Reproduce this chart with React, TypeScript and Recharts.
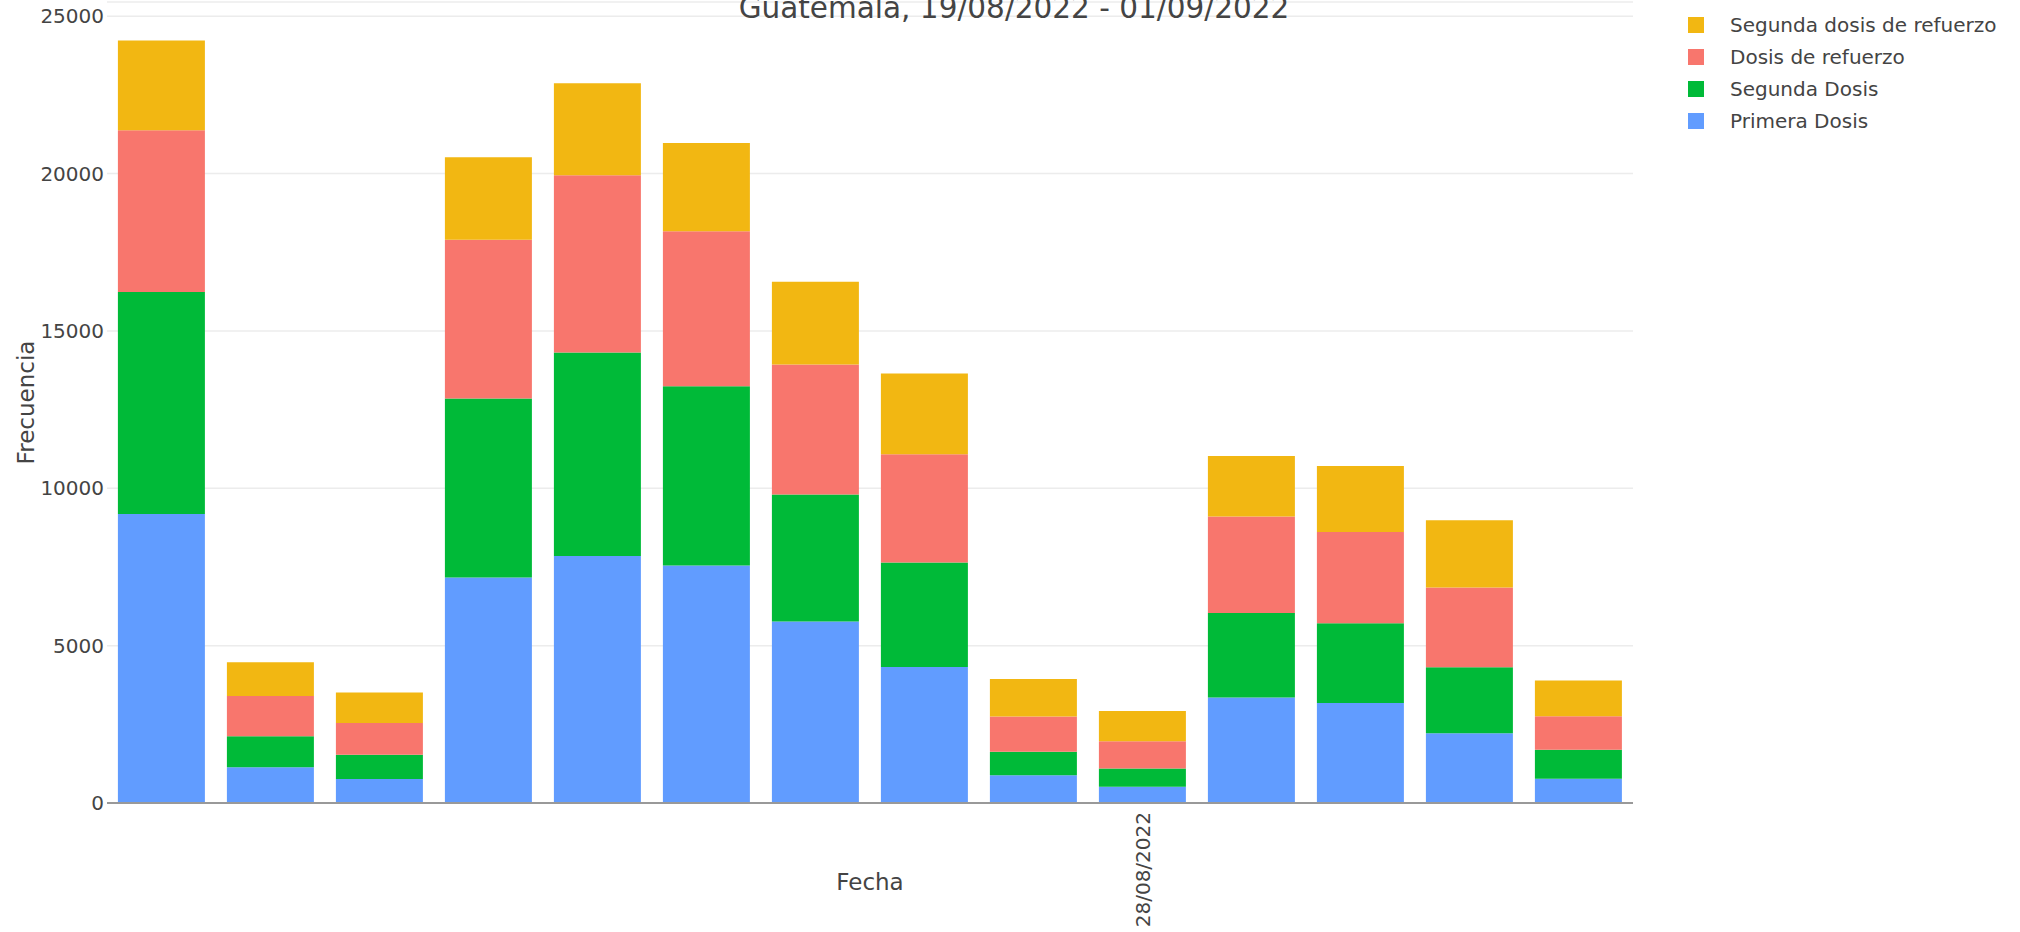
import { BarChart, Bar, XAxis, YAxis, CartesianGrid, Legend, Customized } from 'recharts';

const FONT = '"DejaVu Sans", Verdana, sans-serif';
const TEXT = '#444';

const fechas = [
  '19/08/2022', '20/08/2022', '21/08/2022', '22/08/2022', '23/08/2022', '24/08/2022', '25/08/2022',
  '26/08/2022', '27/08/2022', '28/08/2022', '29/08/2022', '30/08/2022', '31/08/2022', '01/09/2022',
];
const primeraDosis = [9185, 1135, 760, 7165, 7850, 7550, 5770, 4320, 880, 520, 3350, 3180, 2220, 770];
const segundaDosis = [7050, 985, 775, 5690, 6460, 5690, 4030, 3320, 750, 580, 2685, 2535, 2095, 920];
const dosisRefuerzo = [5140, 1280, 1010, 5040, 5635, 4930, 4135, 3440, 1120, 860, 3065, 2895, 2535, 1065];
const segundaRefuerzo = [2855, 1075, 965, 2625, 2925, 2800, 2630, 2570, 1190, 960, 1925, 2095, 2135, 1140];

const yTicks = [0, 5000, 10000, 15000, 20000, 25000];
const shownDate = '28/08/2022';

const series = [
  { key: 'primera', name: 'Primera Dosis', color: '#619CFF', values: primeraDosis },
  { key: 'segunda', name: 'Segunda Dosis', color: '#00BA38', values: segundaDosis },
  { key: 'refuerzo', name: 'Dosis de refuerzo', color: '#F8766D', values: dosisRefuerzo },
  { key: 'segRefuerzo', name: 'Segunda dosis de refuerzo', color: '#F2B712', values: segundaRefuerzo },
];

const data = fechas.map((fecha, i) => {
  const row: any = { fecha };
  series.forEach((s) => { row[s.key] = s.values[i]; });
  return row;
});

function XTick({ x, y, payload }: any) {
  if (payload?.value !== shownDate) return null;
  return (
    <text x={x} y={y} transform={`rotate(-90, ${x}, ${y})`} textAnchor="end" dominantBaseline="central"
      fontSize={20} fill={TEXT} fontFamily={FONT}>
      {payload.value}
    </text>
  );
}

function XLabel({ viewBox }: any) {
  const vb = viewBox ?? {};
  return (
    <text x={vb.x + vb.width / 2} y={vb.y + 79} textAnchor="middle" dominantBaseline="central"
      fontSize={23} fill={TEXT} fontFamily={FONT}>Fecha</text>
  );
}

function YLabel({ viewBox }: any) {
  const vb = viewBox ?? {};
  const cy = vb.y + vb.height / 2;
  return (
    <text x={26} y={cy} transform={`rotate(-90, 26, ${cy})`} textAnchor="middle" dominantBaseline="central"
      fontSize={23} fill={TEXT} fontFamily={FONT}>Frecuencia</text>
  );
}

const renderLegend = () => (
  <div style={{ fontFamily: FONT }}>
    {[...series].reverse().map((s) => (
      <div key={s.key} style={{ display: 'flex', alignItems: 'center', height: 32 }}>
        <div style={{ width: 16, height: 16, background: s.color, marginLeft: 2 }} />
        <span style={{ marginLeft: 26, fontSize: 20, color: TEXT, whiteSpace: 'nowrap' }}>{s.name}</span>
      </div>
    ))}
  </div>
);

// title sits partly above the top edge, as in the source screenshot
const Title = () => (
  <text x={1014} y={18} textAnchor="middle" fontSize={29.5} fill={TEXT} fontFamily={FONT}>
    Guatemala, 19/08/2022 - 01/09/2022
  </text>
);

export default function App() {
  return (
    <div style={{ position: 'absolute', left: 0, top: 0, width: 2020, height: 932, background: '#fff' }}>
      <BarChart width={2020} height={932} data={data} barCategoryGap="10%"
        margin={{ top: 2, right: 387, bottom: 0, left: 0 }}>
        <CartesianGrid vertical={false} stroke="#ececec" strokeWidth={1.5} />
        <XAxis dataKey="fecha" height={129} interval={0} tickLine={false} tickSize={0} tickMargin={9}
          axisLine={{ stroke: '#999', strokeWidth: 2 }} tick={<XTick />} label={<XLabel />} />
        <YAxis width={107} type="number" domain={[0, 25450]} allowDataOverflow ticks={yTicks}
          axisLine={false} tickLine={false} tickSize={0} tickMargin={3}
          tick={{ fontSize: 20, fill: TEXT, fontFamily: FONT }} label={<YLabel />} />
        {series.map((s) => (
          <Bar key={s.key} dataKey={s.key} name={s.name} stackId="a" fill={s.color} isAnimationActive={false} />
        ))}
        <Legend layout="vertical" align="center" verticalAlign="middle" content={renderLegend}
          wrapperStyle={{ left: 1686, top: 8.5, width: 330 }} />
        <Customized component={Title} />
      </BarChart>
    </div>
  );
}
